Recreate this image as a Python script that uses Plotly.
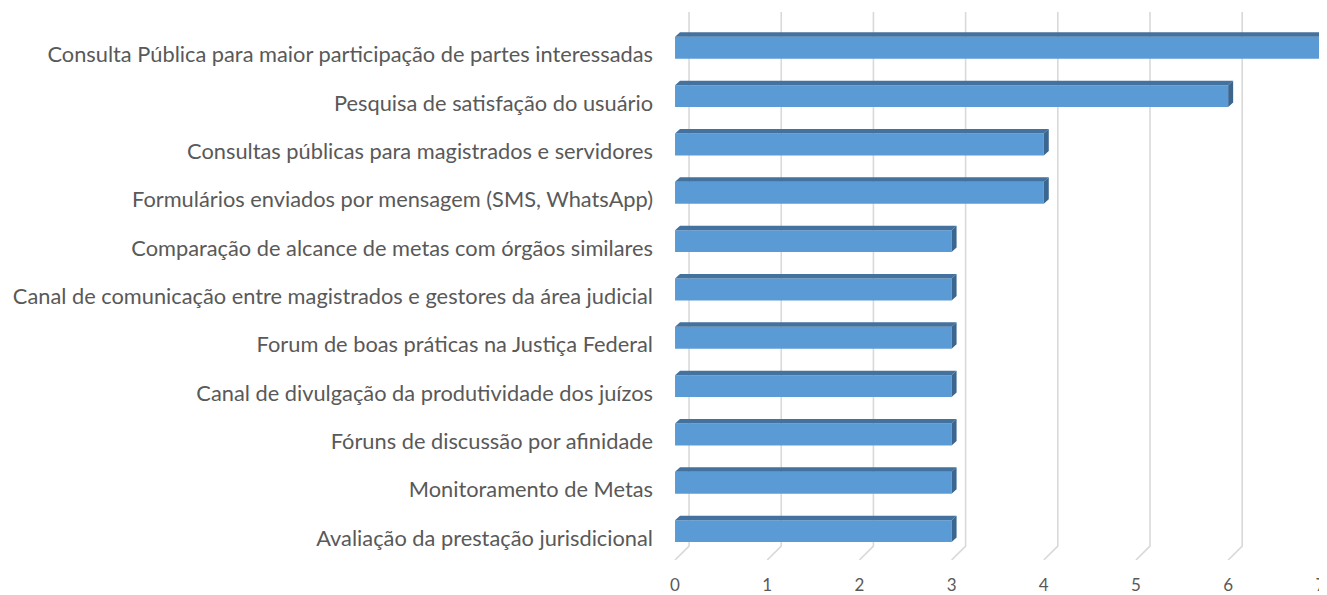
import plotly.graph_objects as go

categories = [
    "Consulta Pública para maior participação de partes interessadas",
    "Pesquisa de satisfação do usuário",
    "Consultas públicas para magistrados e servidores",
    "Formulários enviados por mensagem (SMS, WhatsApp)",
    "Comparação de alcance de metas com órgãos similares",
    "Canal de comunicação entre magistrados e gestores da área judicial",
    "Forum de boas práticas na Justiça Federal",
    "Canal de divulgação da produtividade dos juízos",
    "Fóruns de discussão por afinidade",
    "Monitoramento de Metas",
    "Avaliação da prestação jurisdicional",
]
values = [7, 6, 4, 4, 3, 3, 3, 3, 3, 3, 3]
x_ticks = [0, 1, 2, 3, 4, 5, 6, 7]

# geometry (styling) constants
BAR_W = 0.453        # bar thickness in row units
BAR_DX = 0.054       # bar depth offset (x units)
BAR_DY = 0.093       # bar depth offset (row units)
GRID_DX = 0.152      # back-plane offset (x units)
GRID_DY = 0.288      # back-plane offset (row units)
LABEL_SHIFT = 0.144  # category labels sit slightly below bar front faces
Y_TOP, Y_BOT = -0.741, 10.597
X_MIN, X_MAX = -0.163, 7.072

rows = list(range(len(categories)))
fig = go.Figure()

# gridlines (3D floor + back wall), drawn below all traces
grid_shapes = []
for v in x_ticks:
    path = f"M {v},{Y_BOT} L {v + GRID_DX},{Y_BOT - GRID_DY} L {v + GRID_DX},{Y_TOP}"
    grid_shapes.append(dict(type="path", path=path, xref="x", yref="y", layer="below",
                            line=dict(color="#d9d9d9", width=1.6)))

# front faces
fig.add_trace(go.Bar(x=values, y=rows, orientation="h", width=BAR_W,
                     marker=dict(color="#5B9BD5", line=dict(width=0)), showlegend=False))

# top faces and side faces
h = BAR_W / 2
tx, ty, sx, sy = [], [], [], []
for r, v in zip(rows, values):
    tx += [0, v, v + BAR_DX, BAR_DX, 0, None]
    ty += [r - h, r - h, r - h - BAR_DY, r - h - BAR_DY, r - h, None]
    sx += [v, v + BAR_DX, v + BAR_DX, v, v, None]
    sy += [r - h, r - h - BAR_DY, r + h - BAR_DY, r + h, r - h, None]
fig.add_trace(go.Scatter(x=tx, y=ty, mode="lines", fill="toself", fillcolor="#44729E",
                         line=dict(width=0, color="#44729E"), hoverinfo="skip", showlegend=False))
fig.add_trace(go.Scatter(x=sx, y=sy, mode="lines", fill="toself", fillcolor="#3A6690",
                         line=dict(width=0, color="#3A6690"), hoverinfo="skip", showlegend=False))

# invisible trace carrying the category label axis
fig.add_trace(go.Scatter(x=[None] * len(rows), y=rows, yaxis="y2", mode="markers",
                         hoverinfo="skip", showlegend=False))

fig.update_layout(
    width=1319, height=587,
    margin=dict(l=652, r=0, t=4, b=32),
    paper_bgcolor="white", plot_bgcolor="white",
    font=dict(family="Lato", color="#595959"),
    shapes=grid_shapes,
    xaxis=dict(range=[X_MIN, X_MAX], tickvals=x_ticks, showgrid=False, zeroline=False,
               showline=False, ticks="", tickfont=dict(size=17), ticklabelstandoff=13),
    yaxis=dict(range=[Y_BOT, Y_TOP], showticklabels=False, showgrid=False,
               zeroline=False, showline=False, ticks=""),
    yaxis2=dict(range=[Y_BOT - LABEL_SHIFT, Y_TOP - LABEL_SHIFT], overlaying="y", side="left",
                tickvals=rows, ticktext=categories, showgrid=False, zeroline=False,
                showline=False, ticks="", tickfont=dict(size=21.8), ticklabelstandoff=6),
)
fig.write_html("out.html")
